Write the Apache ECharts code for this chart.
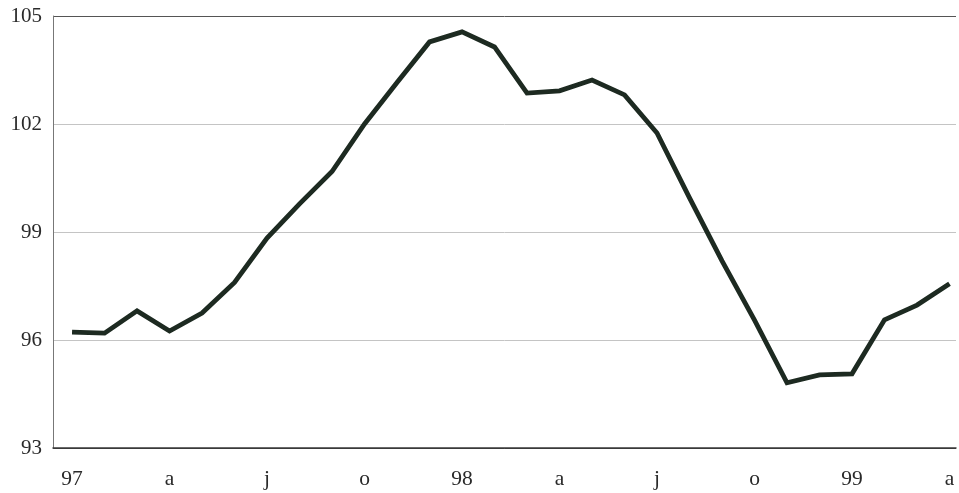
<!DOCTYPE html>
<html>
<head>
<meta charset="utf-8">
<script src="https://cdn.jsdelivr.net/npm/echarts@6/dist/echarts.min.js"></script>
<style>html,body{margin:0;padding:0;background:#fff}#c{width:959px;height:493px}</style>
</head>
<body>
<div id="c"></div>
<script>
// Monthly index, Jan 1997 – Apr 1999
const months = [0,1,2,3,4,5,6,7,8,9,10,11,12,13,14,15,16,17,18,19,20,21,22,23,24,25,26,27];
const values = [96.22, 96.19, 96.81, 96.25, 96.75, 97.6, 98.83, 99.78, 100.68, 102.0, 103.15, 104.28,
                104.56, 104.14, 102.86, 102.92, 103.22, 102.81, 101.75, 99.95, 98.2, 96.55, 94.81, 95.03,
                95.06, 96.56, 96.97, 97.56];
const tickPositions = [0, 3, 6, 9, 12, 15, 18, 21, 24, 27];
const tickLabels = ['97', 'a', 'j', 'o', '98', 'a', 'j', 'o', '99', 'a'];
const yTicks = [93, 96, 99, 102, 105];

const chart = echarts.init(document.getElementById('c'), null, {renderer: 'canvas'});
const font = '"Liberation Serif", "Times New Roman", serif';
chart.setOption({
  animation: false,
  grid: {left: 53, right: 3, top: 16, bottom: 45},
  xAxis: {
    type: 'value',
    min: -0.586,
    max: 27.2,
    axisLine: {show: true, onZero: false, lineStyle: {color: '#3a3a3a', width: 1.5}},
    axisTick: {show: false},
    splitLine: {show: false},
    axisLabel: {
      customValues: tickPositions,
      formatter: function (v) { const i = tickPositions.indexOf(Math.round(v)); return i >= 0 ? tickLabels[i] : ''; },
      fontFamily: font, fontSize: 21.5, color: '#2a2a2a', margin: 20
    }
  },
  yAxis: {
    type: 'value',
    min: yTicks[0],
    max: yTicks[yTicks.length - 1],
    interval: 3,
    axisLine: {show: true, onZero: false, lineStyle: {color: '#777', width: 1}},
    axisTick: {show: false},
    splitLine: {show: true, lineStyle: {color: ['#3a3a3a', '#c4c4c4', '#c4c4c4', '#c4c4c4', '#555'], width: 1}},
    axisLabel: {fontFamily: font, fontSize: 21, color: '#2a2a2a', margin: 11}
  },
  series: [{
    type: 'line',
    data: months.map((m, i) => [m, values[i]]),
    symbol: 'none',
    lineStyle: {color: '#1d2a21', width: 4.8, join: 'miter'}
  }]
});
</script>
</body>
</html>
